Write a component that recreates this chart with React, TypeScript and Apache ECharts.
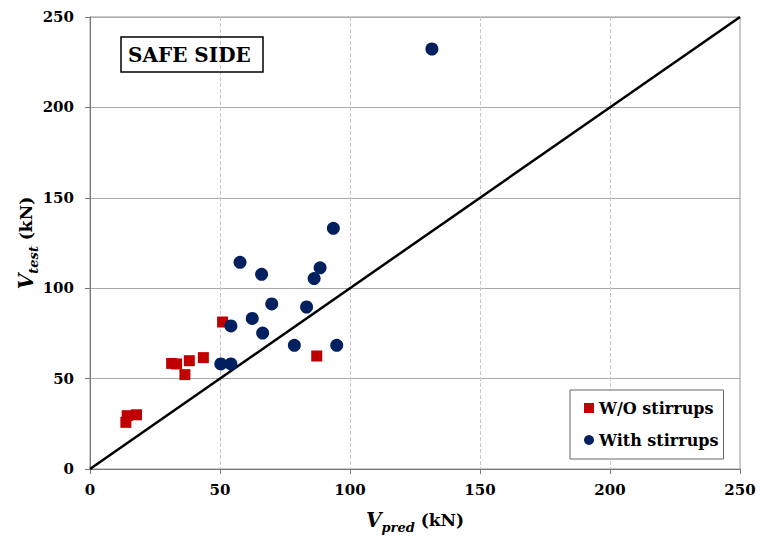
import React, { useEffect, useRef } from "react";
import * as echarts from "echarts";

const woStirrups: [number, number][] = [
  [13.8, 25.8], [14.3, 29.5], [17.9, 30.0], [31.4, 58.4], [33.3, 58.1],
  [36.5, 52.2], [38.2, 59.9], [43.6, 61.6], [51.0, 81.3], [87.2, 62.5],
];
const withStirrups: [number, number][] = [
  [50.3, 58.1], [54.2, 58.1], [54.2, 79.1], [62.4, 83.3], [66.4, 75.2],
  [69.9, 91.3], [78.6, 68.4], [83.3, 89.6], [94.9, 68.4], [57.7, 114.3],
  [66.0, 107.7], [88.5, 111.3], [86.2, 105.3], [93.6, 133.1], [131.5, 232.3],
];
const equalityLine: [number, number][] = [[0, 0], [250, 250]];
const axisMin = 0;
const axisMax = 250;
const axisStep = 50;

const FONT = "DejaVu Serif";

export default function App() {
  const ref = useRef<HTMLDivElement>(null);
  useEffect(() => {
    if (!ref.current) return;
    const chart = echarts.init(ref.current, null, { renderer: "svg" });
    const labelStyle = { color: "#000", fontFamily: FONT, fontWeight: "bold" as const, fontSize: 15 };
    const nameRich = {
      i: { fontFamily: FONT, fontStyle: "italic", fontWeight: "bold", fontSize: 20, color: "#000", verticalAlign: "middle" },
      s: { fontFamily: FONT, fontStyle: "italic", fontWeight: "bold", fontSize: 13, color: "#000", verticalAlign: "bottom", lineHeight: 28 },
      b: { fontFamily: FONT, fontWeight: "bold", fontSize: 17, color: "#000", verticalAlign: "middle" },
    };
    chart.setOption({
      animation: false,
      backgroundColor: "#fff",
      grid: { left: 90, right: 20, top: 17, bottom: 71, show: true, borderColor: "#999", borderWidth: 1, outerBoundsMode: "none" },
      title: {
        text: "SAFE SIDE",
        left: 121,
        top: 37,
        borderColor: "#000",
        borderWidth: 1.5,
        padding: [8, 12, 7, 7],
        textStyle: { fontFamily: FONT, fontWeight: "bold", fontSize: 20, color: "#000" },
      },
      legend: {
        orient: "vertical",
        left: 570,
        top: 390,
        backgroundColor: "#fff",
        borderColor: "#666",
        borderWidth: 1,
        padding: [10, 5, 11, 14],
        itemGap: 16,
        itemWidth: 10,
        itemHeight: 10,
        textStyle: { fontFamily: FONT, fontWeight: "bold", fontSize: 16, color: "#000" },
        data: [
          { name: "W/O stirrups", icon: "rect" },
          { name: "With stirrups", icon: "circle" },
        ],
      },
      xAxis: {
        type: "value",
        min: axisMin,
        max: axisMax,
        interval: axisStep,
        name: "{i|V}{s|pred}{b| (kN)}",
        nameLocation: "middle",
        nameGap: 37,
        nameTextStyle: { rich: nameRich },
        axisLine: { lineStyle: { color: "#777", width: 1 } },
        axisTick: { show: true, length: 5, lineStyle: { color: "#777" } },
        axisLabel: { ...labelStyle, margin: 13 },
        splitLine: { show: true, lineStyle: { color: "#c8c8c8", type: "dashed", width: 1 } },
      },
      yAxis: {
        type: "value",
        min: axisMin,
        max: axisMax,
        interval: axisStep,
        name: "{i|V}{s|test}{b| (kN)}",
        nameLocation: "middle",
        nameGap: 50,
        nameMoveOverlap: false,
        nameRotate: 90,
        nameTextStyle: { rich: nameRich },
        axisLine: { show: true, lineStyle: { color: "#777", width: 1 } },
        axisTick: { show: true, length: 5, lineStyle: { color: "#777" } },
        axisLabel: { ...labelStyle, margin: 16 },
        splitLine: { show: true, lineStyle: { color: "#aaa", width: 1 } },
      },
      series: [
        {
          type: "line",
          data: equalityLine,
          symbol: "none",
          lineStyle: { color: "#000", width: 2.5 },
          silent: true,
          z: 1,
        },
        {
          name: "W/O stirrups",
          type: "scatter",
          symbol: "rect",
          symbolSize: 11,
          itemStyle: { color: "#C00000", opacity: 1 },
          data: woStirrups,
          z: 3,
        },
        {
          name: "With stirrups",
          type: "scatter",
          symbol: "circle",
          symbolSize: 13,
          itemStyle: { color: "#002060", opacity: 1 },
          data: withStirrups,
          z: 3,
        },
      ],
    });
    return () => chart.dispose();
  }, []);
  return <div ref={ref} style={{ position: "fixed", left: 0, top: 0, width: 760, height: 540 }} />;
}
